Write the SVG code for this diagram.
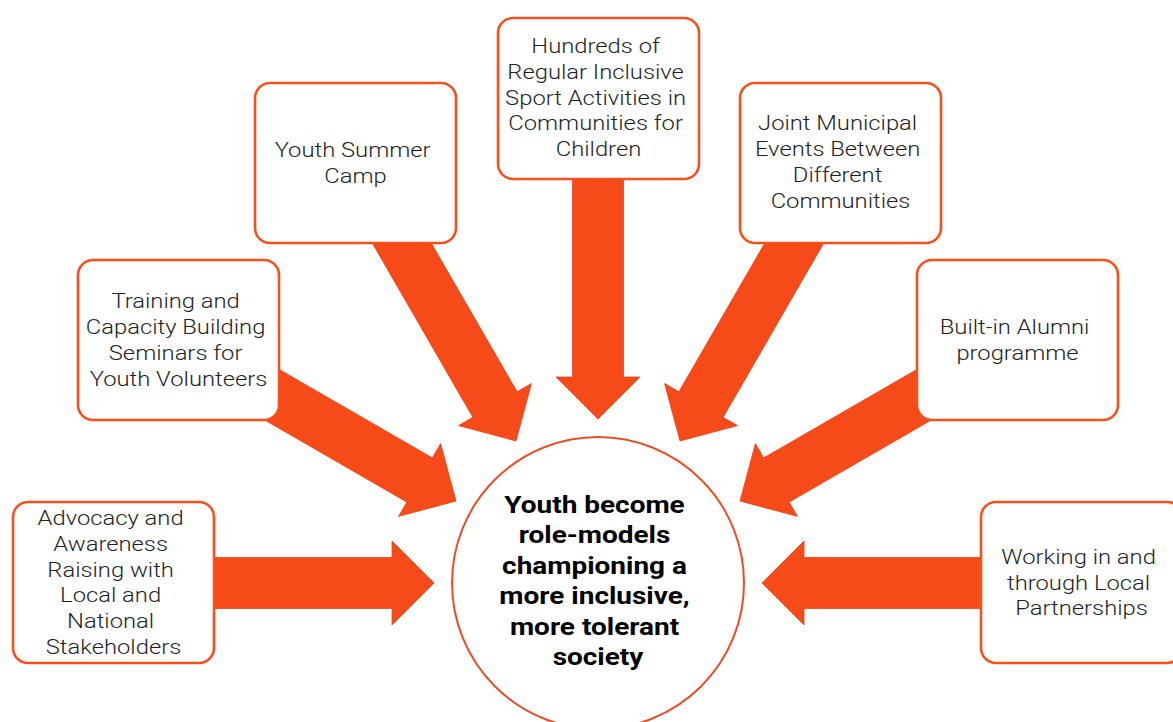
<svg xmlns="http://www.w3.org/2000/svg" xmlns:xlink="http://www.w3.org/1999/xlink" width="1173" height="722" viewBox="0 0 1173 722">
  <style>
    .box { fill: #ffffff; stroke: #F5501E; stroke-width: 2.6; }
    .lbl { font-family: Roboto, "Liberation Sans", sans-serif; font-weight: 300; font-size: 20.5px; fill: #1e1e1e; text-anchor: middle; }
    .hub { fill: #ffffff; stroke: #E5502A; stroke-width: 2; }
    .hubtxt { font-family: Roboto, "Liberation Sans", sans-serif; font-weight: 700; font-size: 24px; fill: #000000; text-anchor: middle; }
    .arrow { fill: #F64A19; stroke: #E8461A; stroke-width: 0.8; stroke-linejoin: miter; }
  </style>
  <defs>
    <!-- block arrow in hub-relative coords: x = distance outward from hub centre, tip points inward -->
    <path id="blockArrow" d="M164,0 L206,-42 L206,-25.5 L440,-25.5 L440,25.5 L206,25.5 L206,42 Z"/>
  </defs>
  <rect width="1173" height="722" fill="#ffffff"/>

  <g id="connectors">
    <use xlink:href="#blockArrow" class="arrow" transform="translate(598,583) rotate(180)"/>
    <use xlink:href="#blockArrow" class="arrow" transform="translate(598,583) rotate(210)"/>
    <use xlink:href="#blockArrow" class="arrow" transform="translate(598,583) rotate(240)"/>
    <use xlink:href="#blockArrow" class="arrow" transform="translate(598,583) rotate(270)"/>
    <use xlink:href="#blockArrow" class="arrow" transform="translate(598,583) rotate(300)"/>
    <use xlink:href="#blockArrow" class="arrow" transform="translate(598,583) rotate(330)"/>
    <use xlink:href="#blockArrow" class="arrow" transform="translate(598,583) rotate(0)"/>
  </g>

  <!-- labels are set slightly wide: each text is anchored at its box centre and stretched horizontally -->
  <g id="advocacy">
    <rect class="box" x="13" y="502" width="201" height="161" rx="15"/>
    <text class="lbl" transform="translate(113.5,0) scale(1.16,1)">
      <tspan x="0" y="525">Advocacy and</tspan>
      <tspan x="0" y="550.8">Awareness</tspan>
      <tspan x="0" y="576.6">Raising with</tspan>
      <tspan x="0" y="602.4">Local and</tspan>
      <tspan x="0" y="628.2">National</tspan>
      <tspan x="0" y="654">Stakeholders</tspan>
    </text>
  </g>

  <g id="training">
    <rect class="box" x="78" y="260" width="201" height="160" rx="15"/>
    <text class="lbl" transform="translate(178.5,0) scale(1.16,1)">
      <tspan x="0" y="308">Training and</tspan>
      <tspan x="0" y="334">Capacity Building</tspan>
      <tspan x="0" y="360">Seminars for</tspan>
      <tspan x="0" y="386">Youth Volunteers</tspan>
    </text>
  </g>

  <g id="summer-camp">
    <rect class="box" x="255" y="83" width="201" height="160" rx="15"/>
    <text class="lbl" transform="translate(355.5,0) scale(1.16,1)">
      <tspan x="0" y="157">Youth Summer</tspan>
      <tspan x="0" y="183">Camp</tspan>
    </text>
  </g>

  <g id="sport-activities">
    <rect class="box" x="498" y="18" width="201" height="161" rx="15"/>
    <text class="lbl" transform="translate(598.5,0) scale(1.16,1)">
      <tspan x="0" y="53.3">Hundreds of</tspan>
      <tspan x="0" y="79">Regular Inclusive</tspan>
      <tspan x="0" y="104.7">Sport Activities in</tspan>
      <tspan x="0" y="130.4">Communities for</tspan>
      <tspan x="0" y="156.1">Children</tspan>
    </text>
  </g>

  <g id="municipal-events">
    <rect class="box" x="740" y="83" width="201" height="160" rx="15"/>
    <text class="lbl" transform="translate(840.5,0) scale(1.16,1)">
      <tspan x="0" y="130.5">Joint Municipal</tspan>
      <tspan x="0" y="156.3">Events Between</tspan>
      <tspan x="0" y="182.1">Different</tspan>
      <tspan x="0" y="207.9">Communities</tspan>
    </text>
  </g>

  <g id="alumni">
    <rect class="box" x="917" y="260" width="201" height="160" rx="15"/>
    <text class="lbl" transform="translate(1017.5,0) scale(1.16,1)">
      <tspan x="0" y="334">Built-in Alumni</tspan>
      <tspan x="0" y="360">programme</tspan>
    </text>
  </g>

  <g id="partnerships">
    <rect class="box" x="981" y="502" width="201" height="161" rx="15"/>
    <text class="lbl" transform="translate(1081.5,0) scale(1.16,1)">
      <tspan x="0" y="564">Working in and</tspan>
      <tspan x="0" y="590">through Local</tspan>
      <tspan x="0" y="615.5">Partnerships</tspan>
    </text>
  </g>

  <g id="outcome">
    <circle class="hub" cx="598" cy="583" r="146"/>
    <text class="hubtxt" transform="translate(598,0) scale(1.165,1)">
      <tspan x="0" y="513">Youth become</tspan>
      <tspan x="0" y="543.5">role-models</tspan>
      <tspan x="0" y="574">championing a</tspan>
      <tspan x="0" y="604.5">more inclusive,</tspan>
      <tspan x="0" y="635">more tolerant</tspan>
      <tspan x="0" y="665.5">society</tspan>
    </text>
  </g>
</svg>
